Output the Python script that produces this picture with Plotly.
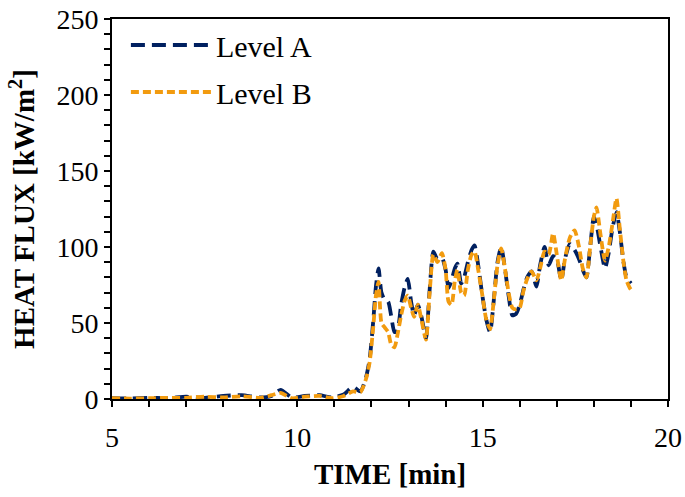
import plotly.graph_objects as go

time_min = [5.0, 5.5, 6.0, 6.5, 7.0, 7.5, 8.0, 8.5, 9.0, 9.3, 9.55, 9.85, 10.2, 10.6, 10.95,
            11.25, 11.5, 11.7, 11.85, 11.95, 12.05, 12.12, 12.19, 12.27, 12.36, 12.45, 12.53,
            12.62, 12.7, 12.8, 12.9, 12.98, 13.07, 13.15, 13.25, 13.35, 13.47, 13.57, 13.67,
            13.78, 13.9, 14.0, 14.08, 14.16, 14.25, 14.32, 14.42, 14.5, 14.6, 14.7, 14.78,
            14.88, 14.98, 15.1, 15.2, 15.3, 15.4, 15.5, 15.6, 15.7, 15.8, 15.9, 16.0, 16.1,
            16.2, 16.32, 16.45, 16.55, 16.67, 16.78, 16.9, 17.0, 17.12, 17.22, 17.35, 17.48,
            17.6, 17.7, 17.8, 17.9, 18.0, 18.07, 18.18, 18.3, 18.4, 18.5, 18.61, 18.7, 18.8,
            18.88, 18.97, 19.0]

level_a = [0.5, 0.3, 0.8, 0.5, 1.5, 0.8, 2.0, 2.5, 1.0, 2.0, 6.0, 1.0, 2.0, 2.5, 1.0,
           3.0, 8.0, 5.0, 14, 26, 52, 74, 86, 70, 65, 64, 55,
           44, 45, 62, 74, 79, 64, 55, 62, 54, 40, 72, 97,
           92, 93, 85, 73, 78, 86, 89, 76, 80, 90, 98, 101,
           88, 70, 52, 44, 65, 90, 100, 86, 68, 55, 56, 62, 72,
           80, 84, 74, 88, 100, 88, 94, 92, 78, 92, 102, 98,
           92, 85, 80, 100, 120, 115, 100, 86, 96, 112, 123, 110, 90,
           80, 77, 76]

level_b = [0.5, 0.3, 0.5, 0.8, 0.8, 1.5, 1.0, 1.8, 0.8, 2.5, 4.0, 0.5, 1.5, 2.0, 0.5,
           2.0, 5.0, 4.5, 13, 24, 48, 68, 77, 50, 47, 44, 36,
           34, 42, 55, 65, 68, 60, 54, 62, 52, 39, 70, 95,
           90, 96, 85, 64, 62, 78, 85, 70, 68, 85, 95, 97,
           85, 70, 52, 46, 65, 88, 99, 86, 70, 60, 59, 60, 71,
           79, 84, 78, 86, 97, 95, 109, 95, 78, 92, 106, 111,
           100, 86, 80, 100, 120, 126, 108, 91, 100, 115, 132, 112, 90,
           78, 73, 72]

series_names = ["Level A", "Level B"]
series_colors = ["#002060", "#F29B0F"]

FONT = "Liberation Serif, Times New Roman, serif"

fig = go.Figure()
fig.add_trace(go.Scatter(
    x=time_min, y=level_a, mode="lines", name=series_names[0],
    line=dict(color=series_colors[0], width=3.8, dash="14px,7px", shape="spline", smoothing=0.6),
    legendgroup="a",
))
fig.add_trace(go.Scatter(
    x=time_min, y=level_b, mode="lines", name=series_names[1],
    line=dict(color=series_colors[1], width=3.8, dash="8px,4px", shape="spline", smoothing=0.6),
    legendgroup="b",
))

fig.update_layout(
    width=685, height=497,
    margin=dict(l=112, r=17, t=19, b=98),
    paper_bgcolor="white", plot_bgcolor="white",
    font=dict(family=FONT, size=28, color="black"),
    showlegend=True,
    legend=dict(
        x=0.025, y=1.0, xanchor="left", yanchor="top",
        bgcolor="rgba(0,0,0,0)", borderwidth=0,
        font=dict(family=FONT, size=30, color="black"),
        itemwidth=80, tracegroupgap=5, traceorder="grouped",
    ),
)

fig.update_xaxes(
    range=[5, 20], dtick=5, tick0=5, automargin=False, ticklabeloverflow="allow",
    showline=True, linecolor="black", linewidth=2, mirror=True,
    ticks="outside", ticklen=6, tickwidth=2, tickcolor="black",
    minor=dict(dtick=1, ticks="outside", ticklen=6, tickwidth=2, tickcolor="black"),
    showgrid=False, zeroline=False, ticklabelstandoff=6,
    tickfont=dict(family=FONT, size=28),
    title=dict(text="<b>TIME [min]</b>", font=dict(family=FONT, size=29), standoff=12),
)
fig.update_yaxes(
    range=[0, 250], dtick=50, automargin=False, ticklabeloverflow="allow",
    showline=True, linecolor="black", linewidth=2, mirror=True,
    ticks="outside", ticklen=6, tickwidth=2, tickcolor="black",
    minor=dict(dtick=10, ticks="outside", ticklen=6, tickwidth=2, tickcolor="black"),
    showgrid=False, zeroline=False,
    tickfont=dict(family=FONT, size=28),
    title=dict(text="<b>HEAT FLUX [kW/m<sup>2</sup>]</b>", font=dict(family=FONT, size=29), standoff=13),
)

# remove the browser's default 8px body margin so the figure sits at the page origin
fig.write_html("out.html", config={"displayModeBar": False},
               post_script="document.body.style.margin='0px';")
